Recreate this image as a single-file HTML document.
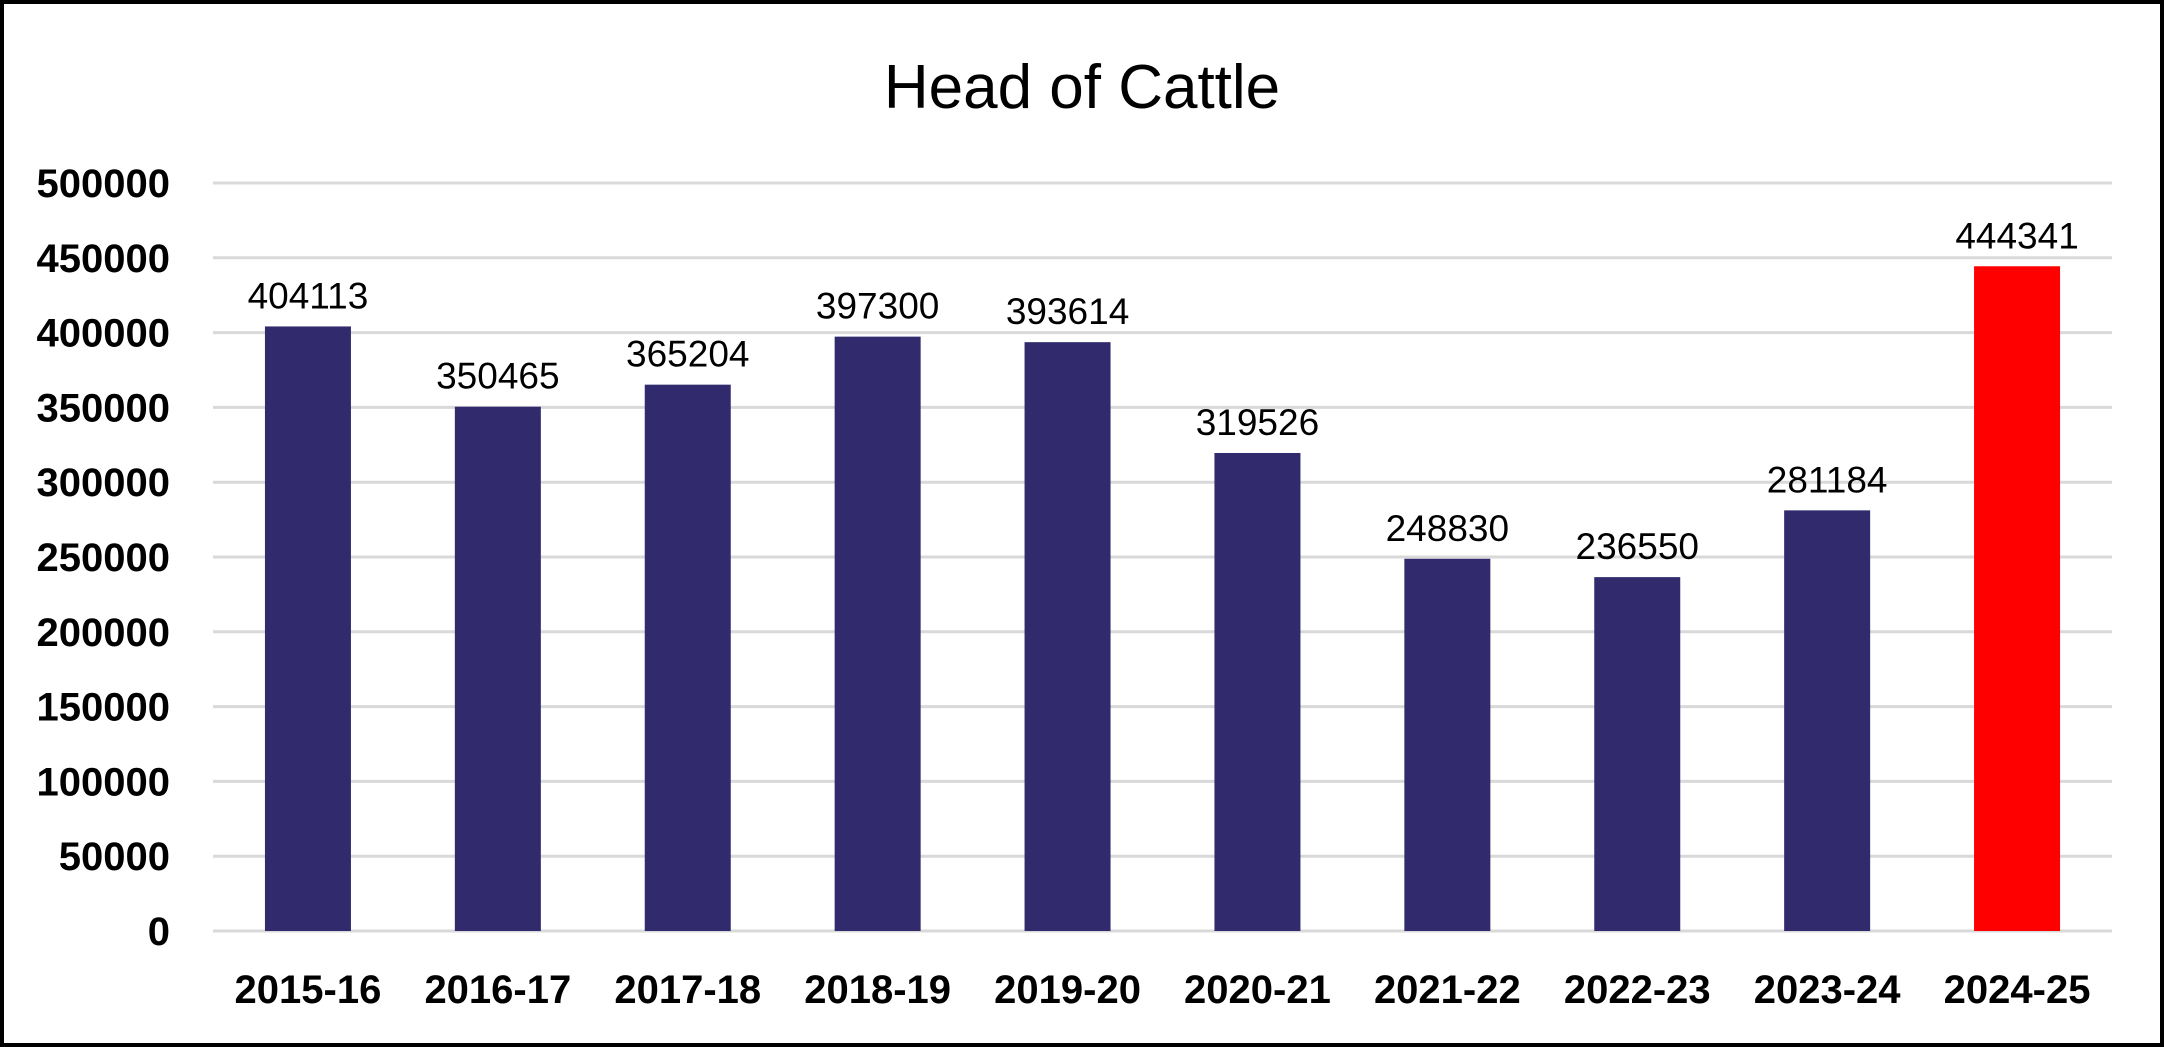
<!DOCTYPE html>
<html><head><meta charset="utf-8"><style>
html,body{margin:0;padding:0;background:#fff}
svg{display:block}
text{font-family:"Liberation Sans",Arial,sans-serif}
</style></head><body>
<svg id="chart" width="2164" height="1047" viewBox="0 0 2164 1047" xmlns="http://www.w3.org/2000/svg">
<rect x="2" y="2" width="2160" height="1043" fill="#fff" stroke="#000" stroke-width="4"/>
<text x="1082" y="108" font-size="62" text-anchor="middle" fill="#000">Head of Cattle</text>
<g id="grid"></g><g id="bars"></g><g id="labels"></g>
</svg>
<script>
const categories = ["2015-16","2016-17","2017-18","2018-19","2019-20","2020-21","2021-22","2022-23","2023-24","2024-25"];
const values = [404113,350465,365204,397300,393614,319526,248830,236550,281184,444341];
const yTicks = [0,50000,100000,150000,200000,250000,300000,350000,400000,450000,500000];
const highlight = ["2024-25"];
const svg = document.getElementById('chart');
const NS = "http://www.w3.org/2000/svg";
const L=213, R=2112, T=183, B=931, yMax=500000;
const y = v => B - v / yMax * (B - T);
const bw = (R - L) / categories.length;
const x = i => L + bw * (i + 0.5);
function mk(tag, attrs, parent){const e=document.createElementNS(NS,tag);for(const k in attrs)e.setAttribute(k,attrs[k]);parent.appendChild(e);return e;}
const grid=document.getElementById('grid'), bars=document.getElementById('bars'), labels=document.getElementById('labels');
yTicks.forEach(t=>{
  const ln=mk('line',{x1:L,x2:R,y1:y(t),y2:y(t),stroke:'#d9d9d9','stroke-width':3},grid);
  
  
  const tx=mk('text',{x:170,y:y(t)+14,'font-size':40,'font-weight':'bold','text-anchor':'end',fill:'#000'},grid);
  tx.textContent=t;
  
  
});
categories.forEach((c,i)=>{
  const v=values[i];
  const r=mk('rect',{x:x(i)-43,y:y(v),width:86,height:B-y(v),fill:highlight.includes(c)?'#ff0000':'#312b6d'},bars);
  
  
  const vl=mk('text',{x:x(i),y:y(v)-18,'font-size':37,'text-anchor':'middle',fill:'#000'},labels);
  vl.textContent=v;
  
  
  const xl=mk('text',{x:x(i),y:1003,'font-size':40,'font-weight':'bold','text-anchor':'middle',fill:'#000'},labels);
  xl.textContent=c;
  
  
});
</script>
</body></html>
